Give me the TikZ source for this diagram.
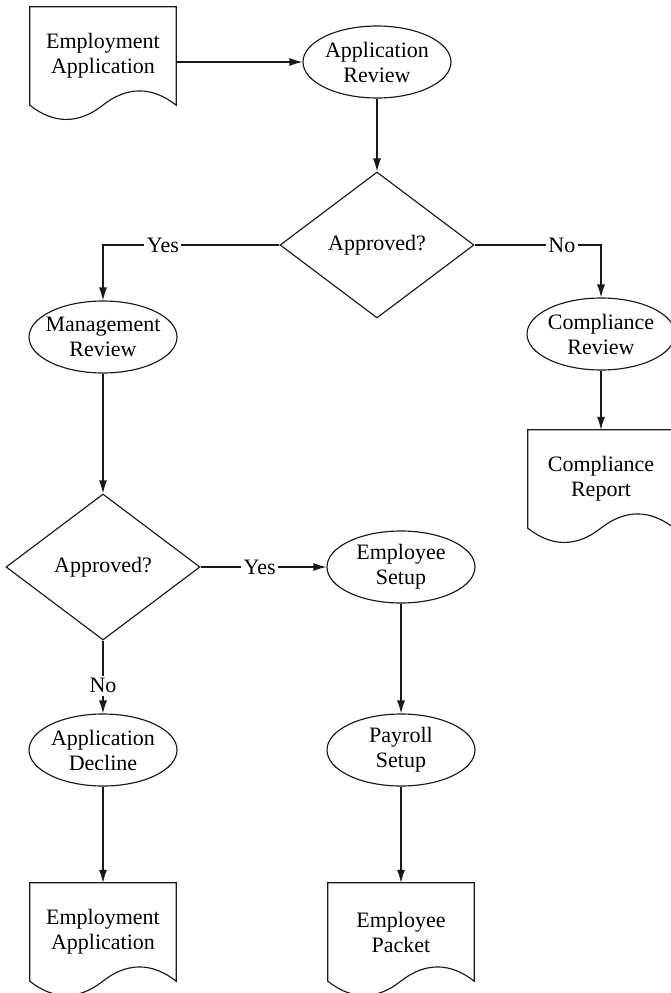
\documentclass[tikz,border=0pt]{standalone}
\usepackage{fontspec}
\setmainfont{Liberation Serif}
\usetikzlibrary{shapes.geometric,arrows.meta}

% document symbol: flat top, straight sides, wavy bottom edge
\newcommand\docoutline[1]{%
  \draw[line] (#1.south west) -- (#1.north west) -- (#1.north east) -- (#1.south east)
    .. controls +(-24,-19) and +(24,-19) .. ([xshift=73pt]#1.south west)
    .. controls +(-24,19) and +(24,19) .. (#1.south west) -- cycle;}

\begin{document}
\begin{tikzpicture}[x=1pt,y=-1pt,
  every node/.style={font=\fontsize{22}{25}\selectfont, align=center, text=black},
  line/.style={draw=black!90, line width=1.15pt},
  arr/.style={line, -{Latex[length=13pt,width=8pt]}},
  oval/.style={ellipse, line, minimum width=148pt, minimum height=72pt,
    inner xsep=-9pt, inner ysep=0pt},
  decision/.style={diamond, line, minimum width=194pt, minimum height=146pt, inner sep=0pt, aspect=1.33},
  docnode/.style={minimum width=146pt, minimum height=98pt, inner sep=0pt},
  lbl/.style={fill=white, inner sep=2.5pt}]

\useasboundingbox (0,0) rectangle (671,993);

% documents
\node[docnode] (app)  at (103,56)  {Employment\\Application};
\node[docnode] (crep) at (601,479) {Compliance\\Report};
\node[docnode] (app2) at (103,932) {Employment\\Application};
\node[docnode] (pack) at (401,932) {Employee\\Packet};
\docoutline{app}
\docoutline{crep}
\docoutline{app2}
\docoutline{pack}

% processes
\node[oval] (arev) at (377,62)  {Application\\Review};
\node[oval] (mrev) at (103,337) {Management\\Review};
\node[oval] (crev) at (601,334) {Compliance\\Review};
\node[oval] (eset) at (401,567) {Employee\\Setup};
\node[oval] (adec) at (103,750) {Application\\Decline};
\node[oval] (pset) at (401,750) {Payroll\\Setup};

% decisions
\node[decision] (ok1) at (377,245) {Approved?};
\node[decision] (ok2) at (103,567) {Approved?};

% flow
\draw[arr] (arev.west -| app.east) -- (arev.west);
\draw[arr] (arev) -- (ok1);
\draw[arr] (ok1.west) -| node[lbl, pos=0.33] (y1) {Yes} (mrev.north);
\draw[arr] (ok1.east) -| node[lbl, pos=0.345] (n1) {No} (crev.north);
\draw[arr] (crev) -- (crep.north);
\draw[arr] (mrev) -- (ok2);
\draw[arr] (ok2.east) -- node[lbl, pos=0.47] (y2) {Yes} (eset.west);
\draw[arr] (ok2.south) -- node[lbl, pos=0.62] (n2) {No} (adec.north);
\draw[arr] (eset) -- (pset);
\draw[arr] (adec) -- (app2.north);
\draw[arr] (pset) -- (pack.north);
\end{tikzpicture}
\end{document}
